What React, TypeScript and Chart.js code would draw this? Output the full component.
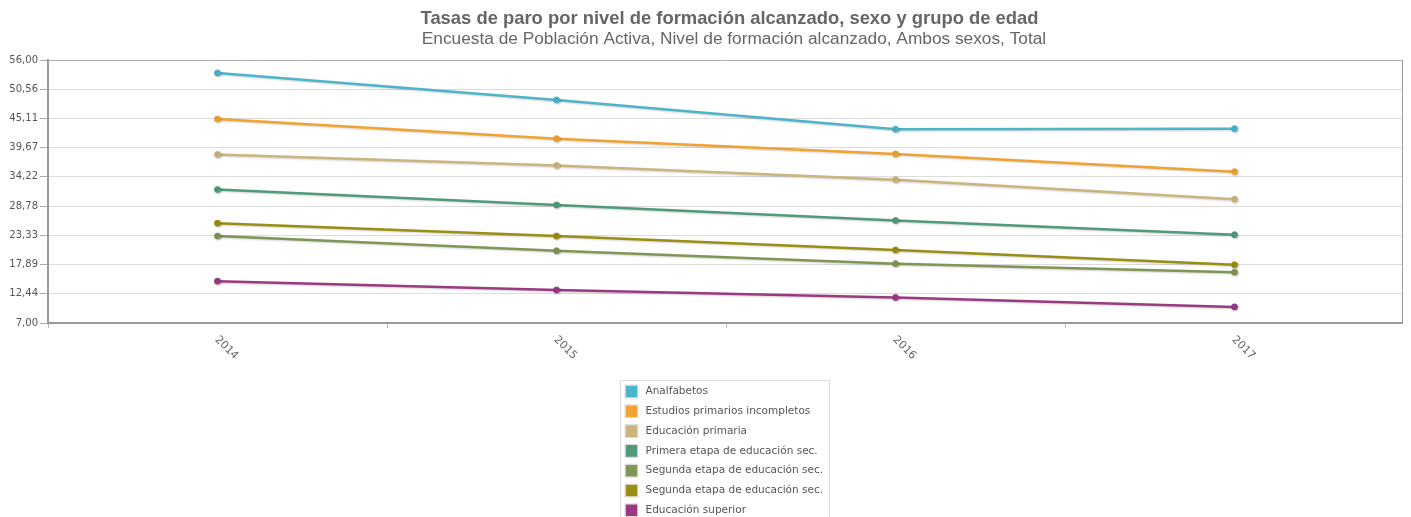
import React, { useEffect, useRef } from "react";
import { Chart, registerables } from "chart.js";

Chart.register(...registerables);

if (typeof document !== "undefined") {
  document.documentElement.style.overflow = "hidden";
}

const titleText = "Tasas de paro por nivel de formación alcanzado, sexo y grupo de edad";
const subtitleText = "Encuesta de Población Activa, Nivel de formación alcanzado, Ambos sexos, Total";

const years = ["2014", "2015", "2016", "2017"];

const seriesNames = [
  "Analfabetos",
  "Estudios primarios incompletos",
  "Educación primaria",
  "Primera etapa de educación sec.",
  "Segunda etapa de educación sec.",
  "Segunda etapa de educación sec.",
  "Educación superior",
];

const seriesColors = [
  "#4DB4C9",
  "#F0A232",
  "#CBB47F",
  "#519A7A",
  "#809556",
  "#9A8E14",
  "#993A82",
];

const analfabetos = [53.6, 48.55, 43.1, 43.2];
const primariosIncompletos = [45.0, 41.35, 38.5, 35.2];
const primaria = [38.4, 36.35, 33.7, 30.05];
const primeraEtapa = [31.85, 29.0, 26.1, 23.45];
const segundaEtapaA = [23.2, 20.45, 18.05, 16.45];
const segundaEtapaB = [25.6, 23.2, 20.6, 17.85];
const superior = [14.8, 13.15, 11.75, 10.0];

const seriesValues = [
  analfabetos,
  primariosIncompletos,
  primaria,
  primeraEtapa,
  segundaEtapaA,
  segundaEtapaB,
  superior,
];

const yMin = 7;
const yMax = 56;
const yTickCount = 10;

const CANVAS_W = 1401;
const CANVAS_H = 530;
const PLOT_TOP = 52;
const PLOT_BOTTOM = 315;
const Y_AXIS_W = 40;

const decorPlugin = {
  id: "decor",
  beforeDatasetsDraw(chart: any) {
    const ctx = chart.ctx;
    ctx.save();
    ctx.shadowColor = "rgba(0,0,0,0.18)";
    ctx.shadowOffsetX = 1;
    ctx.shadowOffsetY = 1;
    ctx.shadowBlur = 2;
  },
  afterDatasetsDraw(chart: any) {
    chart.ctx.restore();
  },
  afterDraw(chart: any) {
    const ctx = chart.ctx;
    const a = chart.chartArea;
    const cx = (a.left + a.right) / 2;
    ctx.save();
    // frame
    ctx.strokeStyle = "#b0b0b0";
    ctx.lineWidth = 1;
    ctx.beginPath();
    ctx.moveTo(a.left, a.top + 0.5);
    ctx.lineTo(a.right - 1, a.top + 0.5);
    ctx.stroke();
    ctx.strokeStyle = "#999";
    ctx.lineWidth = 2;
    ctx.beginPath();
    ctx.moveTo(a.right - 1, a.top);
    ctx.lineTo(a.right - 1, a.bottom);
    ctx.stroke();

    // titles
    ctx.fillStyle = "#666";
    ctx.textAlign = "center";
    ctx.textBaseline = "alphabetic";
    ctx.font = "bold 18.4px 'Liberation Sans', Arial, sans-serif";
    ctx.fillText(titleText, cx + 3.5, 15.5);
    ctx.font = "17.3px 'Liberation Sans', Arial, sans-serif";
    ctx.fillText(subtitleText, cx + 8, 35.5);

    // x labels rotated clockwise
    const xs = chart.scales.x;
    ctx.font = "11px 'DejaVu Sans', sans-serif";
    ctx.fillStyle = "#666";
    ctx.textAlign = "left";
    ctx.textBaseline = "middle";
    years.forEach((y, i) => {
      const px = xs.getPixelForValue(i);
      ctx.save();
      ctx.translate(px - 1, a.bottom + 15);
      ctx.rotate(Math.PI / 4);
      ctx.fillText(y, 0, 0);
      ctx.restore();
    });

    // legend
    ctx.font = "10.5px 'DejaVu Sans', sans-serif";
    let maxW = 0;
    chart.data.datasets.forEach((d: any) => {
      maxW = Math.max(maxW, ctx.measureText(d.label).width);
    });
    const boxW = Math.round(5 + 12 + 8 + maxW + 6);
    const boxLeft = Math.round(cx - boxW / 2 - 1.5) + 0.5;
    const boxTop = 372.5;
    const rowH = 19.8;
    const n = chart.data.datasets.length;
    const boxH = n * rowH + 8;
    ctx.fillStyle = "#fff";
    ctx.fillRect(boxLeft, boxTop, boxW, boxH);
    ctx.strokeStyle = "#ddd";
    ctx.lineWidth = 1;
    ctx.strokeRect(boxLeft, boxTop, boxW, boxH);
    chart.data.datasets.forEach((d: any, i: number) => {
      const cy = boxTop + 11 + i * rowH;
      ctx.fillStyle = d.borderColor;
      ctx.fillRect(boxLeft + 5, cy - 6, 12, 12);
      ctx.strokeStyle = "#ddd";
      ctx.strokeRect(boxLeft + 4.5, cy - 6.5, 13, 13);
      ctx.fillStyle = "#555";
      ctx.textAlign = "left";
      ctx.textBaseline = "middle";
      ctx.fillText(d.label, boxLeft + 25, cy);
    });
    ctx.restore();
  },
};

export default function App() {
  const ref = useRef<HTMLCanvasElement | null>(null);
  useEffect(() => {
    if (!ref.current) return;
    const chart = new Chart(ref.current, {
      type: "line",
      data: {
        labels: years,
        datasets: seriesNames.map((name, i) => ({
          label: name,
          data: seriesValues[i],
          borderColor: seriesColors[i],
          backgroundColor: seriesColors[i],
          pointBackgroundColor: seriesColors[i],
          pointBorderColor: seriesColors[i],
          pointRadius: 3,
          pointBorderWidth: 1,
          borderWidth: 2.5,
          tension: 0,
          fill: false,
        })),
      },
      options: {
        animation: false,
        responsive: true,
        maintainAspectRatio: false,
        layout: { padding: { top: PLOT_TOP, left: 0, right: 0, bottom: 0 } },
        plugins: {
          legend: { display: false },
          title: { display: false },
          tooltip: { enabled: false },
        },
        scales: {
          x: {
            type: "category",
            offset: true,
            grid: {
              offset: true,
              drawOnChartArea: false,
              drawTicks: true,
              tickLength: 5,
              tickColor: "#bbb",
            },
            border: { display: true, color: "#999", width: 2 },
            ticks: { display: false },
            afterFit(scale: any) {
              scale.height = CANVAS_H - PLOT_BOTTOM;
            },
          },
          y: {
            min: yMin,
            max: yMax,
            ticks: {
              count: yTickCount,
              color: "#555",
              padding: 2,
              font: { family: "'DejaVu Sans', sans-serif", size: 10 },
              callback: (v: any) => Number(v).toFixed(2).replace(".", ","),
            },
            grid: {
              color: "#dcdcdc",
              tickColor: "#aaa",
              tickLength: 8,
              lineWidth: 1,
            },
            border: { display: true, color: "#999", width: 2 },
            afterFit(scale: any) {
              scale.width = Y_AXIS_W;
            },
          },
        },
      },
      plugins: [decorPlugin],
    });
    return () => chart.destroy();
  }, []);
  return (
    <div style={{ position: "relative", width: CANVAS_W, height: CANVAS_H }}>
      <canvas ref={ref} />
    </div>
  );
}
